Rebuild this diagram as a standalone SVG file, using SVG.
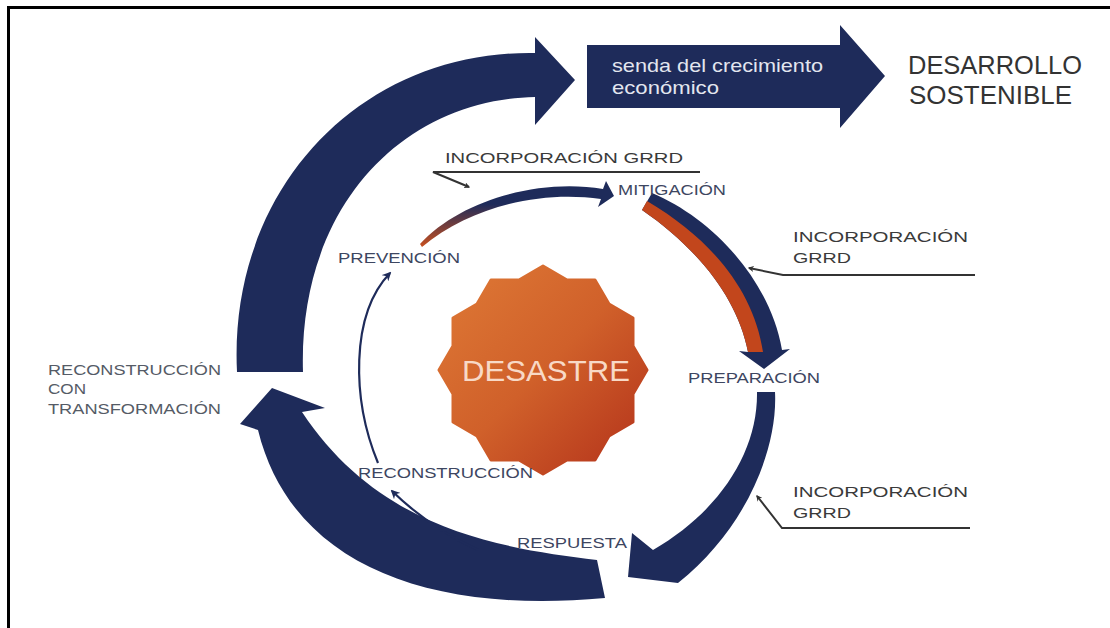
<svg xmlns="http://www.w3.org/2000/svg" width="1110" height="628" viewBox="0 0 1110 628">
<style>
.navy{fill:#1e2b5a}
.lbl{font-family:"Liberation Sans",Arial,sans-serif;font-size:14px;fill:#3d4661}
.inc{font-family:"Liberation Sans",Arial,sans-serif;font-size:15.5px;fill:#3a3a3a}
.gr{font-family:"Liberation Sans",Arial,sans-serif;font-size:14px;fill:#555b66}
.thin{fill:none;stroke:#1e2b5a;stroke-width:2.2}
.ptr{fill:none;stroke:#333;stroke-width:2}
</style>
<defs>
<marker id="ah" viewBox="0 0 10 10" refX="8" refY="5" markerWidth="6" markerHeight="6" orient="auto" markerUnits="userSpaceOnUse">
<path d="M0,0 L10,5 L0,10 L3,5 Z" fill="#333"/>
</marker>
<marker id="ahn" viewBox="0 0 10 10" refX="8" refY="5" markerWidth="9" markerHeight="9" orient="auto" markerUnits="userSpaceOnUse">
<path d="M0,0 L10,5 L0,10 L3,5 Z" fill="#1e2b5a"/>
</marker>
<linearGradient id="starG" x1="0" y1="0" x2="1" y2="1">
<stop offset="0" stop-color="#df7a36"/>
<stop offset="0.5" stop-color="#d0602a"/>
<stop offset="1" stop-color="#b2301a"/>
</linearGradient>
<linearGradient id="thinG" x1="0" y1="0" x2="0" y2="1">
<stop offset="0.35" stop-color="#1e2b5a"/>
<stop offset="1" stop-color="#c8501f"/>
</linearGradient>
</defs>
<rect x="8.5" y="7.5" width="1110" height="640" fill="none" stroke="#000" stroke-width="3"/>

<g id="big-arrow-top">
<path class="navy" d="M237,372 C228,190 360,50 535,53 L535,37 L575,80 L535,125 L535,97 C400,100 298,210 303,372 Z"/>
</g>
<g id="big-arrow-bottom">
<path class="navy" d="M597,560 C500,548 380,530 302,412 L325,408 L272,388 L240,424 L258,430 C290,560 420,615 605,598 Z"/>
</g>
<g id="senda">
<path class="navy" d="M587,45 L840,45 L840,25 L885,76 L840,128 L840,108 L587,108 Z"/>
<text x="612" y="72" font-family="Liberation Sans,Arial,sans-serif" font-size="19" fill="#e3e6ef" textLength="211" lengthAdjust="spacingAndGlyphs">senda del crecimiento</text>
<text x="612" y="94" font-family="Liberation Sans,Arial,sans-serif" font-size="19" fill="#e3e6ef" textLength="107" lengthAdjust="spacingAndGlyphs">económico</text>
</g>
<g id="desarrollo">
<text x="908" y="74" font-family="Liberation Sans,Arial,sans-serif" font-size="26" fill="#333" textLength="174" lengthAdjust="spacingAndGlyphs">DESARROLLO</text>
<text x="909" y="104" font-family="Liberation Sans,Arial,sans-serif" font-size="26" fill="#333" textLength="163" lengthAdjust="spacingAndGlyphs">SOSTENIBLE</text>
</g>
<g id="desastre">
<polygon fill="url(#starG)" stroke="url(#starG)" stroke-width="3" stroke-linejoin="round" points="543,266 567,280 595,280 609,304 633,318 633,346 647,370 633,394 633,422 609,436 595,460 567,460 543,474 519,460 491,460 477,436 453,422 453,394 439,370 453,346 453,318 477,304 491,280 519,280"/>
<text x="462" y="381" font-family="Liberation Sans,Arial,sans-serif" font-size="30" fill="#f8d9c6" textLength="168" lengthAdjust="spacingAndGlyphs">DESASTRE</text>
</g>

<g id="connectors">
<path fill="url(#thinG)" d="M420,244 C460,200 540,178 603,189 L606,181 L614,196 L598,207 L601,199 C540,190 470,207 422,247 Z"/>
<path class="navy" d="M652,193 C712,218 770,280 782,350 L790,349 L764,369 L739,351 L748,352 C738,300 700,250 642,210 Z"/>
<path fill="#c2461c" d="M642,210 C700,250 738,300 748,352 L763,352 C754,292 713,240 647,201 Z"/>
<path class="navy" d="M775,392 C778,450 745,530 678,583 L628,577 L632,533 L653,550 C722,510 758,450 757,392 Z"/>
<path class="thin" d="M378,463 C352,400 350,315 390,273" marker-end="url(#ahn)"/>
<path class="thin" d="M478,550 Q430,528 392,491" marker-end="url(#ahn)"/>
<path class="ptr" d="M700,172 L433,172 L469,187" marker-end="url(#ah)"/>
<path class="ptr" d="M975,275 L783,275 L749,268" marker-end="url(#ah)"/>
<path class="ptr" d="M970,528 L782,528 L757,496" marker-end="url(#ah)"/>
</g>

<g id="inc-top"><text class="inc" x="445" y="163" textLength="238" lengthAdjust="spacingAndGlyphs">INCORPORACIÓN GRRD</text></g>
<g id="inc-mid">
<text class="inc" x="793" y="242" textLength="175" lengthAdjust="spacingAndGlyphs">INCORPORACIÓN</text>
<text class="inc" x="793" y="263" textLength="58" lengthAdjust="spacingAndGlyphs">GRRD</text>
</g>
<g id="inc-bot">
<text class="inc" x="793" y="497" textLength="175" lengthAdjust="spacingAndGlyphs">INCORPORACIÓN</text>
<text class="inc" x="793" y="518" textLength="58" lengthAdjust="spacingAndGlyphs">GRRD</text>
</g>
<g id="mitigacion"><text class="lbl" x="618" y="195" textLength="108" lengthAdjust="spacingAndGlyphs">MITIGACIÓN</text></g>
<g id="prevencion"><text class="lbl" x="338" y="263" textLength="122" lengthAdjust="spacingAndGlyphs">PREVENCIÓN</text></g>
<g id="preparacion"><text class="lbl" x="688" y="383" textLength="132" lengthAdjust="spacingAndGlyphs">PREPARACIÓN</text></g>
<g id="reconstruccion"><text class="lbl" x="358" y="478" textLength="175" lengthAdjust="spacingAndGlyphs">RECONSTRUCCIÓN</text></g>
<g id="respuesta"><text class="lbl" x="517" y="548" textLength="110" lengthAdjust="spacingAndGlyphs">RESPUESTA</text></g>
<g id="reconstruccion-transformacion">
<text class="gr" x="48" y="375" textLength="173" lengthAdjust="spacingAndGlyphs">RECONSTRUCCIÓN</text>
<text class="gr" x="48" y="394" textLength="38" lengthAdjust="spacingAndGlyphs">CON</text>
<text class="gr" x="48" y="414" textLength="173" lengthAdjust="spacingAndGlyphs">TRANSFORMACIÓN</text>
</g>
</svg>
